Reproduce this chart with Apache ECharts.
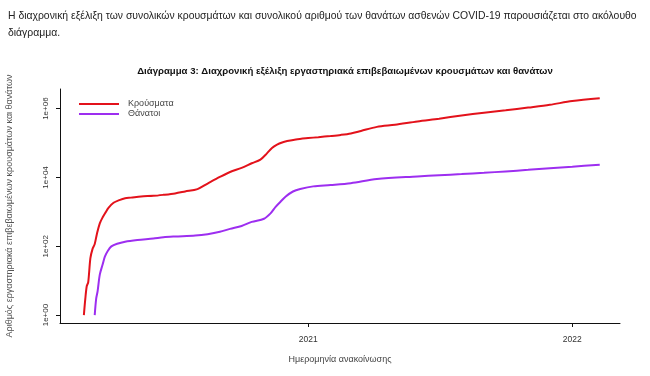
<!DOCTYPE html>
<html>
<head>
<meta charset="utf-8">
<script src="https://cdn.jsdelivr.net/npm/echarts@6/dist/echarts.min.js"></script>
<style>
    html, body { margin: 0; padding: 0; background: #fff; }
    #main { width: 650px; height: 376px; }
</style>
</head>
<body>
<div id="main"></div>
<script>
// Κρούσματα (αθροιστικά)
const caseDates = ['2020-02-26', '2020-02-28', '2020-03-01', '2020-03-03', '2020-03-06', '2020-03-09', '2020-03-12',
    '2020-03-15', '2020-03-19', '2020-03-23', '2020-03-27', '2020-03-31', '2020-04-07', '2020-04-15', '2020-04-23',
    '2020-05-01', '2020-05-15', '2020-06-01', '2020-06-15', '2020-07-01', '2020-07-15', '2020-08-01', '2020-08-15',
    '2020-09-01', '2020-09-15', '2020-10-01', '2020-10-15', '2020-10-27', '2020-11-05', '2020-11-12', '2020-11-19',
    '2020-11-26', '2020-12-03', '2020-12-15', '2021-01-01', '2021-01-15', '2021-02-01', '2021-02-15', '2021-03-01',
    '2021-03-15', '2021-04-06', '2021-05-01', '2021-06-01', '2021-07-01', '2021-08-01', '2021-09-01', '2021-10-01',
    '2021-11-01', '2021-12-01', '2022-01-01', '2022-02-08'];
const caseValues = [1, 3, 7, 9, 45, 84, 117,
    228, 464, 695, 966, 1314, 1832, 2192, 2490,
    2591, 2810, 2917, 3121, 3432, 3910, 4587, 6632,
    10317, 14400, 19000, 25800, 33000, 50000, 72000, 90000,
    104000, 114000, 127000, 139000, 148000, 160000, 172000, 190000,
    225000, 295000, 340000, 425000, 510000, 630000, 760000, 890000,
    1070000, 1290000, 1660000, 2000000];

// Θάνατοι (αθροιστικά)
const deathDates = ['2020-03-12', '2020-03-14', '2020-03-16', '2020-03-19', '2020-03-23', '2020-03-26', '2020-03-30',
    '2020-04-04', '2020-04-12', '2020-04-23', '2020-05-10', '2020-06-01', '2020-06-15', '2020-07-01', '2020-07-29',
    '2020-08-15', '2020-09-01', '2020-09-15', '2020-10-01', '2020-10-15', '2020-11-01', '2020-11-10', '2020-11-17',
    '2020-11-24', '2020-12-01', '2020-12-11', '2020-12-21', '2021-01-08', '2021-02-01', '2021-03-01', '2021-04-06',
    '2021-06-01', '2021-07-01', '2021-08-01', '2021-09-01', '2021-10-01', '2021-11-01', '2021-12-01', '2022-01-01',
    '2022-02-08'];
const deathValues = [1, 3, 5, 15, 30, 50, 73,
    99, 118, 135, 151, 168, 183, 192, 205,
    225, 263, 320, 388, 510, 630, 900, 1400,
    2000, 2800, 3900, 4600, 5500, 6000, 6800, 9000,
    10700, 11600, 12500, 13600, 15000, 16600, 18500, 20500,
    23500];

// άξονες
const yTicks = [1, 100, 10000, 1000000];
const xTicks = ['2021-01-01', '2022-01-01'];

const headerText = 'Η διαχρονική εξέλιξη των συνολικών κρουσμάτων και συνολικού αριθμού των θανάτων ασθενών COVID-19 παρουσιάζεται στο ακόλουθο\nδιάγραμμα.';
const chartTitle = 'Διάγραμμα 3: Διαχρονική εξέλιξη εργαστηριακά επιβεβαιωμένων κρουσμάτων και θανάτων';

function pairs(dates, values) {
    return dates.map((d, i) => [d, values[i]]);
}

const chart = echarts.init(document.getElementById('main'));

const option = {
    animation: false,
    title: [
        {
            text: headerText,
            left: 3,
            top: 3,
            textStyle: {
                fontFamily: 'Liberation Sans',
                fontSize: 10.4,
                fontWeight: 'normal',
                color: '#222',
                lineHeight: 17
            }
        },
        {
            text: chartTitle,
            left: 340,
            textAlign: 'center',
            top: 61,
            textStyle: {
                fontFamily: 'Liberation Sans',
                fontSize: 9.6,
                fontWeight: 'bold',
                color: '#111'
            }
        }
    ],
    legend: {
        orient: 'vertical',
        left: 74,
        top: 94,
        icon: 'rect',
        itemWidth: 40,
        itemHeight: 2,
        itemGap: 0,
        textStyle: {
            fontFamily: 'Liberation Sans',
            fontSize: 9,
            lineHeight: 10,
            color: '#444',
            padding: [0, 0, 0, 4]
        },
        data: ['Κρούσματα', 'Θάνατοι']
    },
    grid: {
        left: 60,
        right: 30,
        top: 89,
        bottom: 53,
        outerBoundsMode: 'none'
    },
    xAxis: {
        type: 'time',
        min: '2020-01-24',
        max: '2022-03-08',
        name: 'Ημερομηνία ανακοίνωσης',
        nameLocation: 'middle',
        nameGap: 32,
        nameTextStyle: {
            fontFamily: 'Liberation Sans',
            fontSize: 9,
            color: '#444'
        },
        axisLine: { lineStyle: { color: '#111', width: 1 } },
        axisTick: { length: 4, lineStyle: { color: '#111' }, customValues: xTicks },
        axisLabel: {
            customValues: xTicks,
            formatter: '{yyyy}',
            margin: 12,
            fontFamily: 'Liberation Sans',
            fontSize: 8.5,
            color: '#333'
        },
        splitLine: { show: false }
    },
    yAxis: {
        type: 'log',
        logBase: 10,
        min: Math.pow(10, -0.23),
        max: Math.pow(10, 6.57),
        name: 'Αριθμός εργαστηριακά επιβεβαιωμένων κρουσμάτων και θανάτων',
        nameLocation: 'middle',
        nameRotate: 90,
        nameGap: 46,
        nameTextStyle: {
            fontFamily: 'Liberation Sans',
            fontSize: 9,
            color: '#555'
        },
        axisLine: { show: true, lineStyle: { color: '#111', width: 1 } },
        axisTick: { show: true, length: 4, lineStyle: { color: '#111' }, customValues: yTicks },
        axisLabel: {
            customValues: yTicks,
            rotate: 90,
            margin: 10,
            fontFamily: 'Liberation Sans',
            fontSize: 8,
            color: '#333',
            formatter: function (v) {
                const p = Math.round(Math.log10(v));
                return '1e+' + String(p).padStart(2, '0');
            }
        },
        splitLine: { show: false }
    },
    series: [
        {
            name: 'Κρούσματα',
            type: 'line',
            symbol: 'none',
            smooth: 0.3,
            lineStyle: { color: '#e3121b', width: 2 },
            itemStyle: { color: '#e3121b' },
            data: pairs(caseDates, caseValues)
        },
        {
            name: 'Θάνατοι',
            type: 'line',
            symbol: 'none',
            smooth: 0.3,
            lineStyle: { color: '#9d2ef0', width: 2 },
            itemStyle: { color: '#9d2ef0' },
            data: pairs(deathDates, deathValues)
        }
    ]
};

chart.setOption(option);
</script>
</body>
</html>
